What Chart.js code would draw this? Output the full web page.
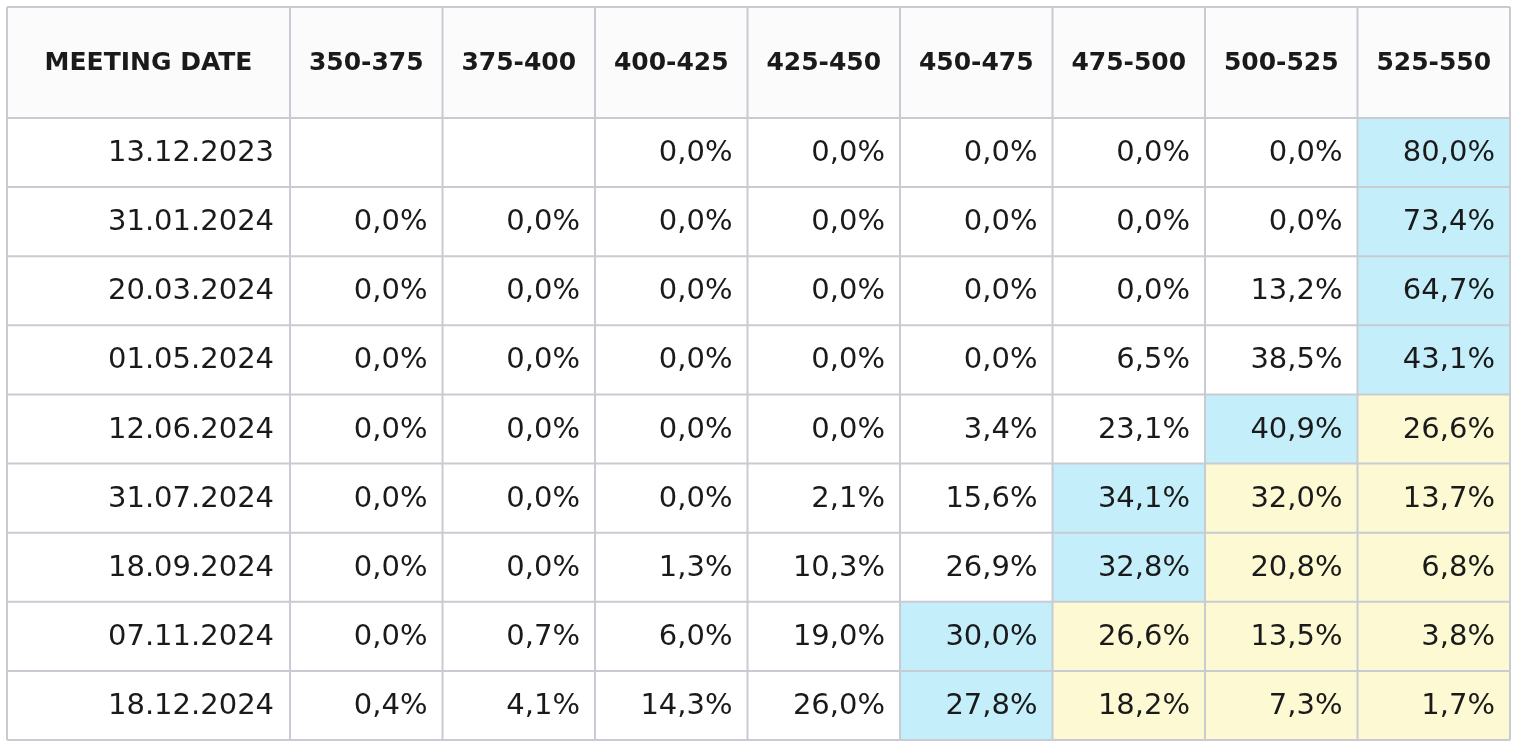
<!DOCTYPE html>
<html><head><meta charset="utf-8">
<script src="https://cdn.jsdelivr.net/npm/chart.js@4"></script>
<style>html,body{margin:0;padding:0;background:#fff}canvas{display:block}</style>
</head><body>
<canvas id="c" width="1515" height="749"></canvas>
<script>
const headerFirst = "MEETING DATE";
const buckets = ["350-375","375-400","400-425","425-450","450-475","475-500","500-525","525-550"];
const dates = ["13.12.2023","31.01.2024","20.03.2024","01.05.2024","12.06.2024","31.07.2024","18.09.2024","07.11.2024","18.12.2024"];
const r1 = [null,null,0.0,0.0,0.0,0.0,0.0,80.0];
const r2 = [0.0,0.0,0.0,0.0,0.0,0.0,0.0,73.4];
const r3 = [0.0,0.0,0.0,0.0,0.0,0.0,13.2,64.7];
const r4 = [0.0,0.0,0.0,0.0,0.0,6.5,38.5,43.1];
const r5 = [0.0,0.0,0.0,0.0,3.4,23.1,40.9,26.6];
const r6 = [0.0,0.0,0.0,2.1,15.6,34.1,32.0,13.7];
const r7 = [0.0,0.0,1.3,10.3,26.9,32.8,20.8,6.8];
const r8 = [0.0,0.7,6.0,19.0,30.0,26.6,13.5,3.8];
const r9 = [0.4,4.1,14.3,26.0,27.8,18.2,7.3,1.7];
const rows = [r1,r2,r3,r4,r5,r6,r7,r8,r9];

const colEdges = [0,1.856]; for(let i=1;i<=8;i++) colEdges.push(1.856+i);
const rowEdges = [0,1.606]; for(let i=1;i<=9;i++) rowEdges.push(1.606+i);

const FONT = '"DejaVu Sans", Verdana, sans-serif';
const tablePlugin = {
  id:'table',
  afterDraw(chart){
    const ctx = chart.ctx, xs = chart.scales.x, ys = chart.scales.y;
    const X = v=>xs.getPixelForValue(v), Y = v=>ys.getPixelForValue(v);
    ctx.save();
    ctx.fillStyle='#fbfbfb';
    ctx.fillRect(X(0),Y(0),X(colEdges[9])-X(0),Y(rowEdges[1])-Y(0));
    rows.forEach((row,ri)=>{
      let mx=-1, mi=-1; row.forEach((v,i)=>{if(v!==null&&v>mx){mx=v;mi=i;}});
      row.forEach((v,ci)=>{
        const x0=X(colEdges[ci+1]), x1=X(colEdges[ci+2]), y0=Y(rowEdges[ri+1]), y1=Y(rowEdges[ri+2]);
        if(ci===mi){ctx.fillStyle='#c3eefa';ctx.fillRect(x0,y0,x1-x0,y1-y0);}
        else if(ci>mi){ctx.fillStyle='#fcf9d3';ctx.fillRect(x0,y0,x1-x0,y1-y0);}
        if(v!==null){
          ctx.fillStyle='#1a1a1a';ctx.font='29px '+FONT;
          ctx.textAlign='right';ctx.textBaseline='middle';
          ctx.fillText(v.toFixed(1).replace('.',',')+'%', x1-15, (y0+y1)/2+1);
        }
      });
      const y0=Y(rowEdges[ri+1]), y1=Y(rowEdges[ri+2]);
      ctx.fillStyle='#1a1a1a';ctx.font='29px '+FONT;
      ctx.textAlign='right';ctx.textBaseline='middle';
      ctx.fillText(dates[ri], X(colEdges[1])-16, (y0+y1)/2+1);
    });
    ctx.fillStyle='#1a1a1a';ctx.font='bold 25px '+FONT;
    ctx.textAlign='center';ctx.textBaseline='middle';
    const hy=(Y(0)+Y(rowEdges[1]))/2+1;
    ctx.fillText(headerFirst,(X(0)+X(colEdges[1]))/2,hy);
    buckets.forEach((b,i)=>ctx.fillText(b,(X(colEdges[i+1])+X(colEdges[i+2]))/2,hy));
    ctx.strokeStyle='#c9cbd3';ctx.lineWidth=2;
    colEdges.forEach(c=>{ctx.beginPath();ctx.moveTo(X(c),Y(0));ctx.lineTo(X(c),Y(rowEdges[10]));ctx.stroke();});
    rowEdges.forEach(r=>{ctx.beginPath();ctx.moveTo(X(0),Y(r));ctx.lineTo(X(colEdges[9]),Y(r));ctx.stroke();});
    ctx.restore();
  }
};

new Chart(document.getElementById('c'),{
  type:'scatter',
  data:{datasets:[{data:[],pointRadius:0}]},
  options:{
    responsive:false,animation:false,
    layout:{padding:{left:7,right:5,top:7,bottom:9}},
    plugins:{legend:{display:false},tooltip:{enabled:false}},
    scales:{
      x:{type:'linear',min:0,max:colEdges[9],display:false},
      y:{type:'linear',min:0,max:rowEdges[10],reverse:true,display:false}
    }
  },
  plugins:[tablePlugin]
});
</script>
</body></html>
